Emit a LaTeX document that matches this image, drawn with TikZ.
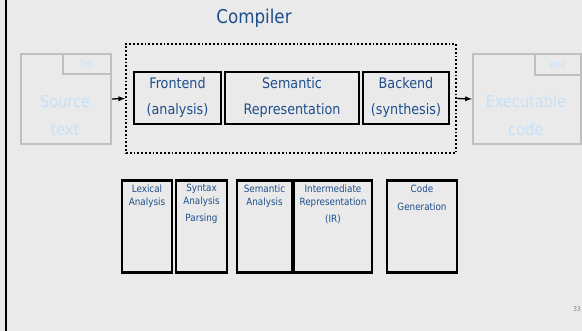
\documentclass[tikz,border=0pt]{standalone}
\usepackage{fontspec}
\setmainfont{DejaVu Sans}[FakeStretch=0.88]
\definecolor{slidebg}{HTML}{EAEAEA}
\definecolor{titleblue}{HTML}{1F4E8C}
\definecolor{ghostblue}{HTML}{C6E1FA}
\definecolor{ghostgray}{HTML}{C0C0C0}
\tikzset{
  stage/.style={draw=black, line width=2.3pt, text=titleblue, inner sep=0pt,
    minimum height=52, align=center, font=\fontsize{14.5}{26}\selectfont},
  phase/.style={draw=black, line width=2.3pt, inner sep=0pt, minimum height=92},
  phasetext/.style={anchor=north, inner sep=0pt, yshift=-5pt, align=center, text=titleblue,
    font=\fontsize{10}{13}\selectfont},
  ghostdoc/.style={draw=ghostgray, line width=2.2pt, inner sep=0pt},
  ghosttext/.style={text=ghostblue, align=center, inner sep=0pt},
}
\begin{document}
\begin{tikzpicture}[x=1pt,y=-1pt]
  \useasboundingbox (0,0) rectangle (582,331);
  \fill[slidebg] (0,0) rectangle (582,331);
  \draw[line width=2pt] (6,0) -- (6,331);
  \node[text=titleblue, font=\fontsize{19}{22}\selectfont] (title) at (254,18) {Compiler};
  % source and target files
  \node[ghostdoc, minimum width=90, minimum height=90] (src) at (66,99) {};
  \node[ghostdoc, minimum width=48, minimum height=20] (srctab) at (87,64) {};
  \node[ghosttext, font=\fontsize{10}{10}\selectfont] (srcext) at (87,64) {txt};
  \node[ghosttext, font=\fontsize{16.5}{28}\selectfont] (srctxt) at (65,115) {Source\\text};
  \node[ghostdoc, minimum width=108, minimum height=90] (exe) at (527,99) {};
  \node[ghostdoc, minimum width=46, minimum height=21] (exetab) at (558,64.5) {};
  \node[ghosttext, font=\fontsize{10}{10}\selectfont] (exeext) at (558,65) {exe};
  \node[ghosttext, font=\fontsize{16.5}{28}\selectfont] (exetxt) at (526,115) {Executable\\code};
  % compiler
  \node[draw, dotted, line width=1.8pt, minimum width=330, minimum height=109] (comp) at (291,98.5) {};
  \node[stage, minimum width=87] (front) at (177.5,98) {Frontend\\(analysis)};
  \node[stage, minimum width=134] (sem) at (292,98) {Semantic\\Representation};
  \node[stage, minimum width=86] (back) at (406,98) {Backend\\(synthesis)};
  \draw[-latex, line width=1.3pt] (src.east) -- (comp.west);
  \draw[-latex, line width=1.3pt] (comp.east) -- (exe.west);
  % phases
  \node[phase, minimum width=50] (lex) at (147,226.5) {};
  \node[phase, minimum width=51] (syn) at (201.5,226.5) {};
  \node[phase, minimum width=55] (sema) at (264.5,226.5) {};
  \node[phase, minimum width=78] (ir) at (333,226.5) {};
  \node[phase, minimum width=70] (gen) at (422,226.5) {};
  \node[phasetext] (lextxt) at (lex.north) {Lexical\\Analysis};
  \node[phasetext] (syntxt) at (syn.north) {Syntax\\Analysis\\[4pt]Parsing};
  \node[phasetext] (sematxt) at (sema.north) {Semantic\\Analysis};
  \node[phasetext] (irtxt) at (ir.north) {Intermediate\\Representation\\[4pt](IR)};
  \node[phasetext, font=\fontsize{10}{18}\selectfont] (gentxt) at (gen.north) {Code\\Generation};
  \node[text=gray, font=\fontsize{6.5}{7}\selectfont] (page) at (577,309) {33};
\end{tikzpicture}
\end{document}
